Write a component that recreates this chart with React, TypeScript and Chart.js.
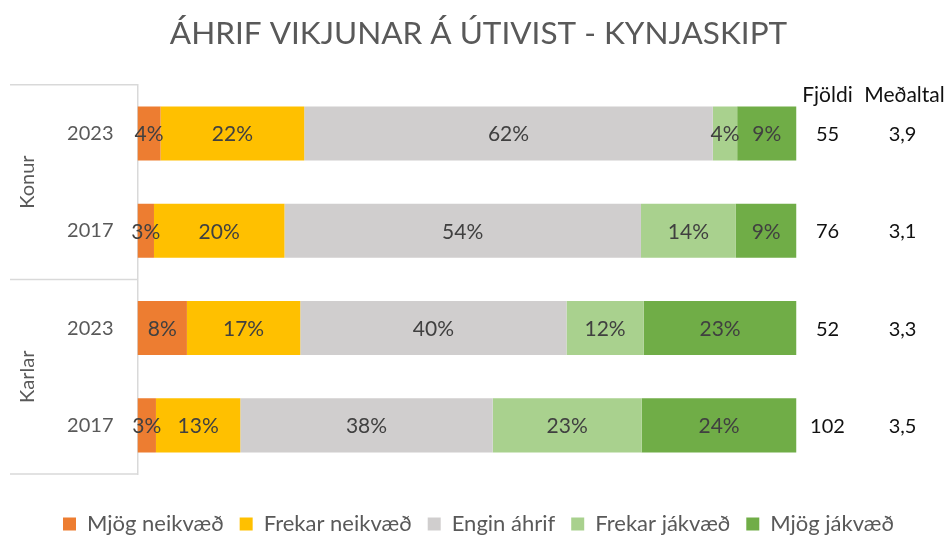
import React, { useEffect, useRef } from 'react';
import { Chart, registerables } from 'chart.js';

Chart.register(...registerables);

const categories = ['2023', '2017', '2023', '2017'];
const groups = ['Konur', 'Karlar'];
const seriesNames = ['Mjög neikvæð', 'Frekar neikvæð', 'Engin áhrif', 'Frekar jákvæð', 'Mjög jákvæð'];
const mjogNeikvaed = [3.5, 2.5, 7.5, 2.8];
const frekarNeikvaed = [21.8, 19.8, 17.2, 12.8];
const enginAhrif = [62.0, 54.1, 40.4, 38.3];
const frekarJakvaed = [3.7, 14.4, 11.7, 22.6];
const mjogJakvaed = [9.0, 9.2, 23.2, 23.5];
const fjoldi = ['55', '76', '52', '102'];
const medaltal = ['3,9', '3,1', '3,3', '3,5'];
const headerFjoldi = 'Fjöldi';
const headerMedaltal = 'Meðaltal';
const titleText = 'ÁHRIF VIKJUNAR Á ÚTIVIST - KYNJASKIPT';

const seriesValues = [mjogNeikvaed, frekarNeikvaed, enginAhrif, frekarJakvaed, mjogJakvaed];
const colors = ['#ED7D31', '#FFC000', '#D0CECE', '#A9D18E', '#70AD47'];
const FONT = "Lato, 'Open Sans', sans-serif";

const overlay = {
  id: 'overlay',
  afterDatasetsDraw(chart: any) {
    const { ctx } = chart;
    ctx.save();
    ctx.font = `21px ${FONT}`;
    ctx.fillStyle = '#404040';
    ctx.textAlign = 'center';
    ctx.textBaseline = 'middle';
    chart.data.datasets.forEach((ds: any, di: number) => {
      const meta = chart.getDatasetMeta(di);
      meta.data.forEach((el: any, i: number) => {
        const v = ds.data[i];
        const cx = (el.x + el.base) / 2;
        ctx.fillText(Math.round(v) + '%', cx, el.y + 1);
      });
    });
    ctx.restore();
  },
  afterDraw(chart: any) {
    const { ctx, chartArea, scales } = chart;
    const y = scales.y;
    const step = (chartArea.bottom - chartArea.top) / categories.length;
    ctx.save();
    ctx.strokeStyle = '#D9D9D9';
    ctx.lineWidth = 1.5;
    [0, 2, 4].forEach((k) => {
      const yy = chartArea.top + k * step;
      ctx.beginPath();
      ctx.moveTo(10, yy);
      ctx.lineTo(chartArea.left, yy);
      ctx.stroke();
    });
    ctx.fillStyle = '#595959';
    ctx.font = `20px ${FONT}`;
    ctx.textAlign = 'center';
    ctx.textBaseline = 'middle';
    groups.forEach((g, gi) => {
      const cy = chartArea.top + (gi * 2 + 1) * step;
      ctx.save();
      ctx.translate(28, cy);
      ctx.rotate(-Math.PI / 2);
      ctx.fillText(g, 0, 0);
      ctx.restore();
    });
    const x1 = chartArea.right + 31;
    const x2 = chartArea.right + 108;
    ctx.fillStyle = '#111111';
    ctx.font = `21px ${FONT}`;
    ctx.fillText(headerFjoldi, x1, chartArea.top + 10);
    ctx.fillText(headerMedaltal, x2, chartArea.top + 10);
    ctx.font = `20px ${FONT}`;
    categories.forEach((_, i) => {
      const cy = y.getPixelForValue(i);
      ctx.fillText(fjoldi[i], x1, cy + 1);
      ctx.fillText(medaltal[i], x2 - 2, cy + 1);
    });
    ctx.restore();
  },
};

export default function App() {
  const ref = useRef<HTMLCanvasElement>(null);
  useEffect(() => {
    document.body.style.margin = '0';
    const chart = new Chart(ref.current as HTMLCanvasElement, {
      type: 'bar',
      data: {
        labels: categories,
        datasets: seriesNames.map((name, i) => ({
          label: name,
          data: seriesValues[i],
          backgroundColor: colors[i],
          borderWidth: 0,
          categoryPercentage: 1,
          barPercentage: 0.556,
        })),
      },
      options: {
        indexAxis: 'y',
        responsive: false,
        animation: false,
        layout: { padding: { left: 6, right: 0, top: 0, bottom: -9 } },
        scales: {
          x: {
            stacked: true,
            min: 0,
            max: 100,
            display: true,
            grid: { display: false, drawTicks: false },
            border: { display: false },
            ticks: { display: false },
            afterFit: (s: any) => { s.height = 23; },
          },
          y: {
            stacked: true,
            grid: { display: false, drawTicks: false },
            border: { display: true, color: '#D9D9D9', width: 1.5 },
            ticks: { color: '#595959', font: { family: FONT, size: 20 }, padding: 24 },
            afterFit: (s: any) => { s.width = 131.5; },
          },
          yR: {
            type: 'category',
            axis: 'y',
            position: 'right',
            display: true,
            grid: { display: false, drawTicks: false },
            border: { display: false },
            ticks: { display: false },
            afterFit: (s: any) => { s.width = 154.5; },
          },
        },
        plugins: {
          title: {
            display: true,
            text: titleText,
            color: '#595959',
            font: { family: FONT, size: 31.5, weight: 'normal' },
            padding: { top: 15, bottom: 32 },
          },
          legend: {
            position: 'bottom',
            labels: {
              color: '#595959',
              font: { family: FONT, size: 22 },
              boxWidth: 13,
              boxHeight: 13,
              padding: 16,
            },
          },
          tooltip: { enabled: false },
        },
      },
      plugins: [overlay],
    } as any);
    return () => chart.destroy();
  }, []);
  return (
    <div style={{ width: 951, height: 536 }}>
      <canvas ref={ref} width={951} height={536} />
    </div>
  );
}
